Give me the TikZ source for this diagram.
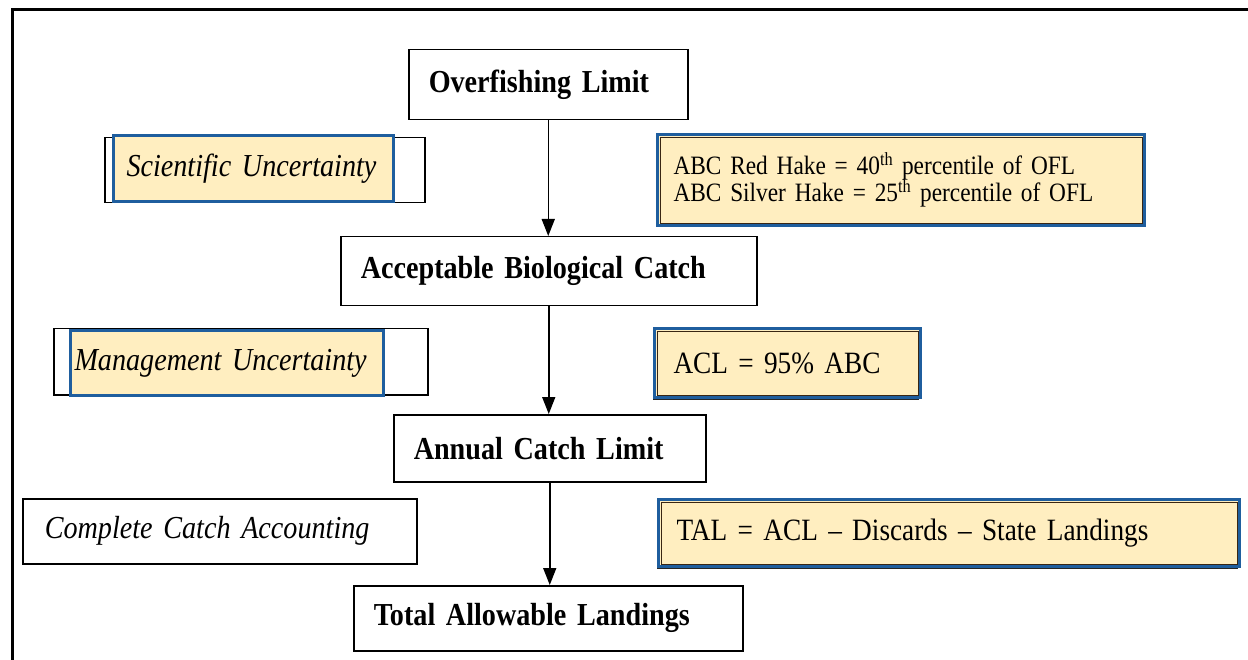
\documentclass[tikz,border=0pt]{standalone}
\usepackage{fontspec}
\setmainfont{Liberation Serif}[FakeStretch=0.88]
\usepackage{xcolor}
\usetikzlibrary{arrows.meta,shadows}
\definecolor{notefill}{HTML}{FFEEC0}
\definecolor{noteblue}{HTML}{1F5E9E}
\newcommand\boxfont[1]{\fontsize{#1}{#1}\selectfont}

\begin{document}
\begin{tikzpicture}[x=1pt,y=-1pt,
    every node/.style={anchor=north west, align=left, inner ysep=0pt},
    mainbox/.style={draw, line width=1.5pt, inner xsep=20pt,
      font=\bfseries\boxfont{32}},
    framebox/.style={draw, line width=1.5pt, inner sep=0pt},
    fillbox/.style={draw=noteblue, fill=notefill, line width=3pt,
      font=\itshape\boxfont{32}},
    notebox/.style={draw=noteblue, fill=notefill, line width=3pt,
      font=\boxfont{31},
      drop shadow={shadow xshift=-2pt, shadow yshift=-2pt,
        fill=black!85, opacity=1},
      path picture={\draw[black!70!brown, line width=0.8pt]
        ([shift={(2.5pt,-2.5pt)}]path picture bounding box.north west) rectangle
        ([shift={(-2.5pt,2.5pt)}]path picture bounding box.south east);}},
    flow/.style={line width=1.5pt, -{Triangle[length=17pt,width=13pt]}}]
  \useasboundingbox (0,0) rectangle (1248,660);
  \draw[line width=3pt] (12,660) -- (12,10) -- (1248,10);

  % main column
  \node[mainbox, text width=239, minimum height=70] (ofl) at (408,49) {Overfishing Limit};
  \node[mainbox, text width=376, minimum height=69] (abc) at (340,236) {Acceptable Biological Catch};
  \node[mainbox, text width=272, minimum height=67] (acl) at (393,414) {Annual Catch Limit};
  \node[mainbox, text width=349, minimum height=65] (tal) at (353,585) {Total Allowable Landings};

  \draw[flow] (ofl.south) -- (ofl.south |- abc.north);
  \draw[flow] (abc.south) -- (abc.south |- acl.north);
  \draw[flow] (acl.south) -- (acl.south |- tal.north);

  % left column
  \node[framebox, minimum width=320, minimum height=65] (scifrm) at (104,137) {};
  \node[fillbox, inner xsep=13pt, text width=254, minimum height=66] (sci) at (112,134) {Scientific Uncertainty};
  \node[framebox, minimum width=374, minimum height=66] (mgmtfrm) at (53,328) {};
  \node[fillbox, inner xsep=4pt, text width=305, minimum height=65] (mgmt) at (69,329) {Management Uncertainty};
  \node[framebox, inner xsep=22pt, text width=350, minimum height=65,
    font=\itshape\boxfont{32}] (cca) at (22,498) {Complete Catch Accounting};

  % right column
  \node[notebox, inner xsep=16pt, text width=455, minimum height=91,
    font=\boxfont{26.5}] (hake) at (656,133)
    {ABC Red Hake = 40\textsuperscript{th} percentile of OFL\\[-1pt]
     ABC Silver Hake = 25\textsuperscript{th} percentile of OFL};
  \node[notebox, inner xsep=19pt, text width=228, minimum height=69] (aclnote) at (653,327) {ACL = 95\% ABC};
  \node[notebox, inner xsep=18pt, text width=545, minimum height=67] (talnote) at (657,498) {TAL = ACL -- Discards -- State Landings};
\end{tikzpicture}
\end{document}
